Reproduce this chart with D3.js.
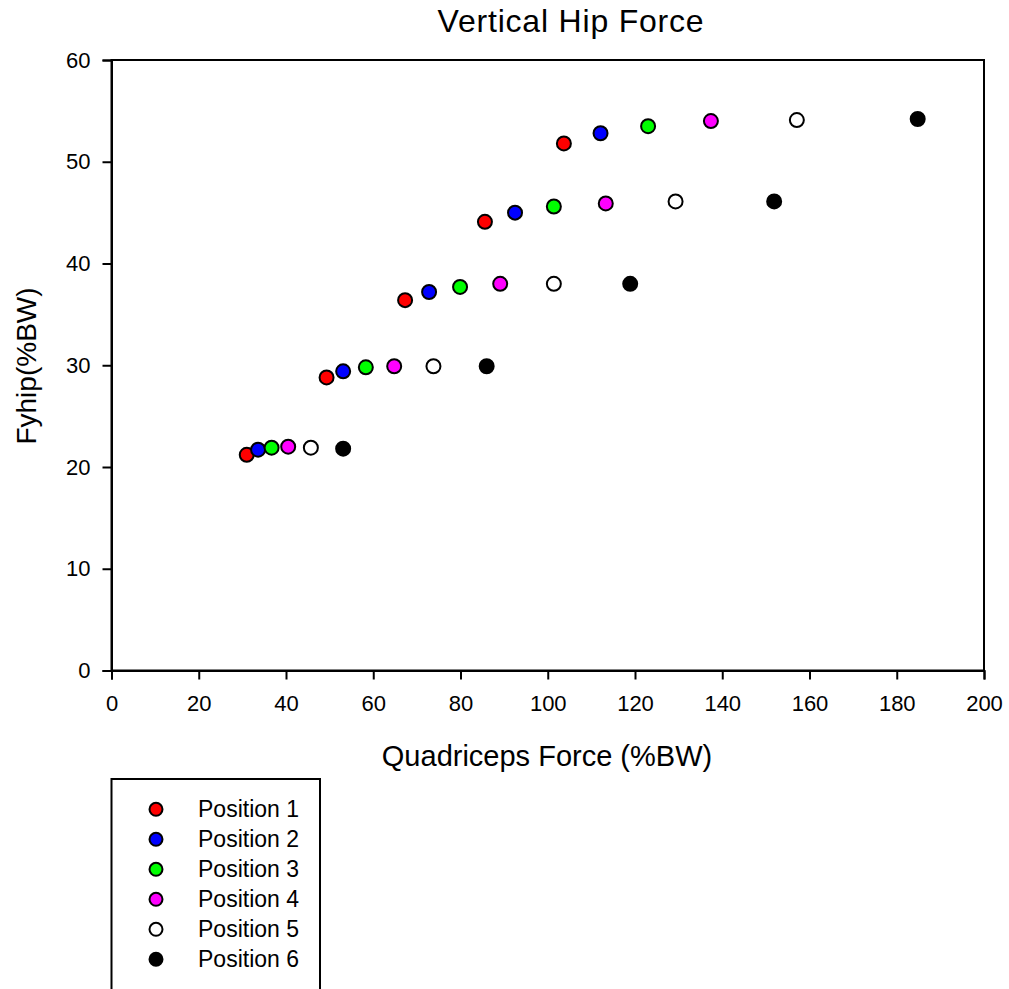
<!DOCTYPE html>
<html>
<head>
<meta charset="utf-8">
<script src="https://cdn.jsdelivr.net/npm/d3@7"></script>
<style>
  html, body { margin: 0; padding: 0; background: #fff; }
  svg { display: block; font-family: "Liberation Sans", Arial, sans-serif; }
</style>
</head>
<body>
<svg id="chart" width="1009" height="989"></svg>
<script>
// Six knee positions, five load levels each
const seriesNames = ["Position 1", "Position 2", "Position 3", "Position 4", "Position 5", "Position 6"];
const seriesFill = ["#ff0000", "#0000ff", "#00ff00", "#ff00ff", "#ffffff", "#000000"];

// Quadriceps force (%BW) per position
const quadPos1 = [31.0, 49.3, 67.3, 85.6, 103.7];
const quadPos2 = [33.6, 53.1, 72.8, 92.5, 112.1];
const quadPos3 = [36.7, 58.3, 79.9, 101.4, 123.0];
const quadPos4 = [40.5, 64.8, 89.1, 113.3, 137.4];
const quadPos5 = [45.7, 73.8, 101.4, 129.3, 157.1];
const quadPos6 = [53.1, 86.0, 118.9, 151.9, 184.8];

// Vertical hip force (%BW) per position
const hipPos1 = [21.2, 28.8, 36.4, 44.1, 51.8];
const hipPos2 = [21.7, 29.4, 37.2, 45.0, 52.8];
const hipPos3 = [21.9, 29.8, 37.7, 45.6, 53.5];
const hipPos4 = [22.0, 29.9, 38.0, 45.9, 54.0];
const hipPos5 = [21.9, 29.9, 38.0, 46.1, 54.1];
const hipPos6 = [21.8, 29.9, 38.0, 46.1, 54.2];

const xTicks = [0, 20, 40, 60, 80, 100, 120, 140, 160, 180, 200];
const yTicks = [0, 10, 20, 30, 40, 50, 60];

const quadAll = [quadPos1, quadPos2, quadPos3, quadPos4, quadPos5, quadPos6];
const hipAll = [hipPos1, hipPos2, hipPos3, hipPos4, hipPos5, hipPos6];

const series = seriesNames.map((name, i) => ({
  name, fill: seriesFill[i],
  points: quadAll[i].map((q, j) => ({ x: q, y: hipAll[i][j] }))
}));

const svg = d3.select("#chart");
const plotLeft = 111.5, plotRight = 984, plotTop = 60, plotBottom = 670.5;

const x = d3.scaleLinear().domain([0, 200]).range([plotLeft, plotRight]);
const y = d3.scaleLinear().domain([0, 60]).range([plotBottom, plotTop]);

// Frame around the plot area
svg.append("rect")
  .attr("x", plotLeft).attr("y", plotTop)
  .attr("width", plotRight - plotLeft).attr("height", plotBottom - plotTop)
  .attr("fill", "none").attr("stroke", "#000").attr("stroke-width", 2);

// Axes
const xAxis = svg.append("g")
  .attr("transform", `translate(0,${plotBottom})`)
  .call(d3.axisBottom(x).tickValues(xTicks).tickSize(9).tickPadding(16).tickFormat(d3.format("d")));
const yAxis = svg.append("g")
  .attr("transform", `translate(${plotLeft},0)`)
  .call(d3.axisLeft(y).tickValues(yTicks).tickSize(9).tickPadding(12).tickFormat(d3.format("d")));

[xAxis, yAxis].forEach(g => {
  g.select(".domain").attr("stroke-width", 2);
  g.selectAll(".tick line").attr("stroke-width", 2);
  g.selectAll(".tick text").attr("font-size", 22).attr("fill", "#000")
    .attr("font-family", "'Liberation Sans', Arial, sans-serif");
});

// Title and axis labels
svg.append("text")
  .attr("x", 571).attr("y", 32)
  .attr("text-anchor", "middle").attr("font-size", 32)
  .attr("letter-spacing", 0.8)
  .text("Vertical Hip Force");

svg.append("text")
  .attr("x", 547).attr("y", 766)
  .attr("text-anchor", "middle").attr("font-size", 29)
  .text("Quadriceps Force (%BW)");

svg.append("text")
  .attr("transform", `translate(36,366) rotate(-90)`)
  .attr("text-anchor", "middle").attr("font-size", 28)
  .text("Fyhip(%BW)");

// Scatter points
const groups = svg.append("g").selectAll("g")
  .data(series).join("g");
groups.selectAll("circle")
  .data(d => d.points.map(p => ({ ...p, fill: d.fill })))
  .join("circle")
  .attr("cx", d => x(d.x))
  .attr("cy", d => y(d.y))
  .attr("r", 7)
  .attr("fill", d => d.fill)
  .attr("stroke", "#000")
  .attr("stroke-width", 2);

// Legend box (runs off the bottom edge)
const legend = svg.append("g");
legend.append("rect")
  .attr("x", 111.5).attr("y", 779)
  .attr("width", 208.5).attr("height", 230)
  .attr("fill", "#fff").attr("stroke", "#000").attr("stroke-width", 2);

const rows = legend.selectAll("g.row")
  .data(series).join("g")
  .attr("class", "row")
  .attr("transform", (d, i) => `translate(0,${809.3 + i * 30})`);
rows.append("circle")
  .attr("cx", 156).attr("cy", 0).attr("r", 6.5)
  .attr("fill", d => d.fill).attr("stroke", "#000").attr("stroke-width", 2);
rows.append("text")
  .attr("x", 198).attr("y", 7.5)
  .attr("font-size", 23)
  .text(d => d.name);
</script>
</body>
</html>
